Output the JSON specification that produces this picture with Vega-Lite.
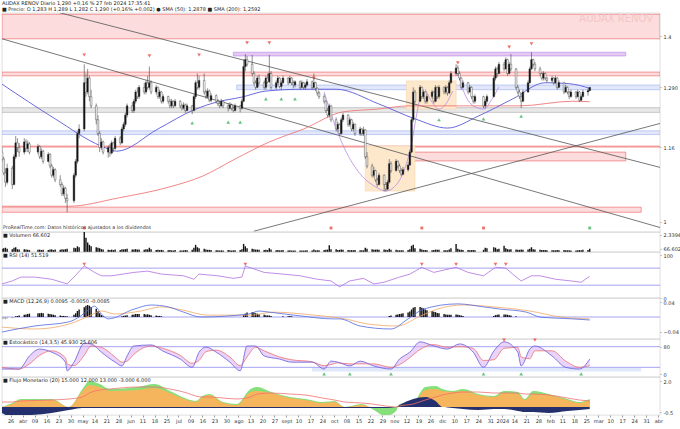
{
"$schema":"https://vega.github.io/schema/vega-lite/v6.json",
"padding":0,
"bounds":"flush",
"background":"white",
"config":{"concat":{"spacing":0},"view":{"stroke":"#c8c8c8","strokeWidth":0.6},"font":"DejaVu Sans",
 "scale":{"continuousPadding":0},
 "axis":{"labelFontSize":5,"labelColor":"#333","domain":false,"grid":false,"tickSize":1,"tickColor":"#999","labelPadding":2,"title":null,"labelOverlap":false},
 "title":{"fontSize":5,"fontWeight":"normal","color":"#222","anchor":"start","frame":"group"},
 "text":{"fontSize":5,"color":"#222","align":"left","baseline":"top"}},
"datasets":{
"c":[
{"d":"2023-03-21","o":1.150,"h":1.160,"l":1.130,"c":1.135,"v":70000},
{"d":"2023-03-22","o":1.135,"h":1.140,"l":1.100,"c":1.105,"v":80000},
{"d":"2023-03-23","o":1.105,"h":1.115,"l":1.075,"c":1.085,"v":90000},
{"d":"2023-03-24","o":1.085,"h":1.125,"l":1.080,"c":1.115,"v":70000},
{"d":"2023-03-27","o":1.115,"h":1.120,"l":1.070,"c":1.080,"v":60000},
{"d":"2023-03-28","o":1.080,"h":1.145,"l":1.078,"c":1.140,"v":90000},
{"d":"2023-03-29","o":1.140,"h":1.185,"l":1.135,"c":1.170,"v":100000},
{"d":"2023-03-30","o":1.170,"h":1.180,"l":1.150,"c":1.160,"v":60000},
{"d":"2023-03-31","o":1.160,"h":1.170,"l":1.140,"c":1.150,"v":50000},
{"d":"2023-04-03","o":1.150,"h":1.180,"l":1.145,"c":1.172,"v":60000},
{"d":"2023-04-04","o":1.172,"h":1.178,"l":1.150,"c":1.158,"v":50000},
{"d":"2023-04-05","o":1.158,"h":1.175,"l":1.150,"c":1.168,"v":45000},
{"d":"2023-04-06","o":1.168,"h":1.172,"l":1.145,"c":1.150,"v":40000},
{"d":"2023-04-11","o":1.150,"h":1.168,"l":1.145,"c":1.162,"v":45000},
{"d":"2023-04-12","o":1.162,"h":1.165,"l":1.135,"c":1.140,"v":50000},
{"d":"2023-04-13","o":1.140,"h":1.158,"l":1.135,"c":1.152,"v":40000},
{"d":"2023-04-14","o":1.152,"h":1.155,"l":1.125,"c":1.130,"v":45000},
{"d":"2023-04-17","o":1.130,"h":1.150,"l":1.128,"c":1.145,"v":40000},
{"d":"2023-04-18","o":1.145,"h":1.148,"l":1.115,"c":1.120,"v":50000},
{"d":"2023-04-19","o":1.120,"h":1.125,"l":1.095,"c":1.100,"v":55000},
{"d":"2023-04-20","o":1.100,"h":1.118,"l":1.095,"c":1.112,"v":40000},
{"d":"2023-04-21","o":1.112,"h":1.115,"l":1.085,"c":1.090,"v":50000},
{"d":"2023-04-24","o":1.090,"h":1.100,"l":1.075,"c":1.080,"v":45000},
{"d":"2023-04-25","o":1.080,"h":1.085,"l":1.055,"c":1.060,"v":60000},
{"d":"2023-04-26","o":1.060,"h":1.078,"l":1.055,"c":1.072,"v":50000},
{"d":"2023-04-27","o":1.072,"h":1.075,"l":1.040,"c":1.050,"v":60000},
{"d":"2023-04-28","o":1.050,"h":1.060,"l":1.020,"c":1.045,"v":70000},
{"d":"2023-05-02","o":1.045,"h":1.105,"l":1.040,"c":1.100,"v":90000},
{"d":"2023-05-03","o":1.100,"h":1.135,"l":1.095,"c":1.130,"v":80000},
{"d":"2023-05-04","o":1.130,"h":1.195,"l":1.125,"c":1.190,"v":120000},
{"d":"2023-05-05","o":1.190,"h":1.210,"l":1.180,"c":1.200,"v":100000},
{"d":"2023-05-08","o":1.200,"h":1.340,"l":1.195,"c":1.300,"v":2200000},
{"d":"2023-05-09","o":1.300,"h":1.320,"l":1.270,"c":1.280,"v":300000},
{"d":"2023-05-10","o":1.280,"h":1.330,"l":1.275,"c":1.310,"v":200000},
{"d":"2023-05-11","o":1.310,"h":1.315,"l":1.260,"c":1.270,"v":150000},
{"d":"2023-05-12","o":1.270,"h":1.285,"l":1.245,"c":1.250,"v":120000},
{"d":"2023-05-15","o":1.250,"h":1.255,"l":1.210,"c":1.220,"v":100000},
{"d":"2023-05-16","o":1.220,"h":1.230,"l":1.185,"c":1.190,"v":90000},
{"d":"2023-05-17","o":1.190,"h":1.195,"l":1.150,"c":1.160,"v":80000},
{"d":"2023-05-18","o":1.160,"h":1.180,"l":1.155,"c":1.172,"v":60000},
{"d":"2023-05-19","o":1.172,"h":1.175,"l":1.145,"c":1.150,"v":50000},
{"d":"2023-05-22","o":1.150,"h":1.165,"l":1.138,"c":1.160,"v":45000},
{"d":"2023-05-23","o":1.160,"h":1.168,"l":1.140,"c":1.148,"v":40000},
{"d":"2023-05-24","o":1.148,"h":1.175,"l":1.145,"c":1.170,"v":50000},
{"d":"2023-05-25","o":1.170,"h":1.172,"l":1.150,"c":1.158,"v":40000},
{"d":"2023-05-26","o":1.158,"h":1.185,"l":1.155,"c":1.180,"v":55000},
{"d":"2023-05-29","o":1.180,"h":1.185,"l":1.165,"c":1.170,"v":40000},
{"d":"2023-05-30","o":1.170,"h":1.205,"l":1.168,"c":1.200,"v":60000},
{"d":"2023-05-31","o":1.200,"h":1.215,"l":1.195,"c":1.210,"v":55000},
{"d":"2023-06-01","o":1.210,"h":1.235,"l":1.205,"c":1.230,"v":60000},
{"d":"2023-06-02","o":1.230,"h":1.255,"l":1.225,"c":1.250,"v":70000},
{"d":"2023-06-05","o":1.250,"h":1.258,"l":1.235,"c":1.240,"v":50000},
{"d":"2023-06-06","o":1.240,"h":1.265,"l":1.235,"c":1.260,"v":55000},
{"d":"2023-06-07","o":1.260,"h":1.285,"l":1.255,"c":1.280,"v":60000},
{"d":"2023-06-08","o":1.280,"h":1.290,"l":1.265,"c":1.270,"v":50000},
{"d":"2023-06-09","o":1.270,"h":1.295,"l":1.265,"c":1.290,"v":55000},
{"d":"2023-06-12","o":1.290,"h":1.300,"l":1.275,"c":1.280,"v":45000},
{"d":"2023-06-13","o":1.280,"h":1.305,"l":1.275,"c":1.300,"v":60000},
{"d":"2023-06-14","o":1.300,"h":1.315,"l":1.285,"c":1.290,"v":55000},
{"d":"2023-06-15","o":1.290,"h":1.335,"l":1.285,"c":1.300,"v":90000},
{"d":"2023-06-16","o":1.300,"h":1.305,"l":1.275,"c":1.280,"v":60000},
{"d":"2023-06-19","o":1.280,"h":1.295,"l":1.275,"c":1.290,"v":40000},
{"d":"2023-06-20","o":1.290,"h":1.292,"l":1.265,"c":1.270,"v":45000},
{"d":"2023-06-21","o":1.270,"h":1.285,"l":1.265,"c":1.280,"v":40000},
{"d":"2023-06-22","o":1.280,"h":1.282,"l":1.255,"c":1.260,"v":45000},
{"d":"2023-06-23","o":1.260,"h":1.275,"l":1.255,"c":1.270,"v":35000},
{"d":"2023-06-26","o":1.270,"h":1.272,"l":1.255,"c":1.260,"v":35000},
{"d":"2023-06-27","o":1.260,"h":1.265,"l":1.245,"c":1.250,"v":40000},
{"d":"2023-06-28","o":1.250,"h":1.265,"l":1.245,"c":1.260,"v":35000},
{"d":"2023-06-29","o":1.260,"h":1.262,"l":1.245,"c":1.250,"v":30000},
{"d":"2023-06-30","o":1.250,"h":1.265,"l":1.248,"c":1.260,"v":40000},
{"d":"2023-07-03","o":1.260,"h":1.262,"l":1.245,"c":1.250,"v":30000},
{"d":"2023-07-04","o":1.250,"h":1.255,"l":1.240,"c":1.245,"v":30000},
{"d":"2023-07-05","o":1.245,"h":1.258,"l":1.242,"c":1.252,"v":35000},
{"d":"2023-07-06","o":1.252,"h":1.255,"l":1.235,"c":1.240,"v":40000},
{"d":"2023-07-07","o":1.240,"h":1.255,"l":1.238,"c":1.250,"v":35000},
{"d":"2023-07-10","o":1.250,"h":1.252,"l":1.232,"c":1.240,"v":45000},
{"d":"2023-07-11","o":1.240,"h":1.275,"l":1.238,"c":1.270,"v":90000},
{"d":"2023-07-12","o":1.270,"h":1.305,"l":1.265,"c":1.300,"v":150000},
{"d":"2023-07-13","o":1.300,"h":1.320,"l":1.285,"c":1.290,"v":100000},
{"d":"2023-07-14","o":1.290,"h":1.315,"l":1.285,"c":1.305,"v":80000},
{"d":"2023-07-17","o":1.305,"h":1.320,"l":1.275,"c":1.280,"v":70000},
{"d":"2023-07-18","o":1.280,"h":1.285,"l":1.265,"c":1.270,"v":50000},
{"d":"2023-07-19","o":1.270,"h":1.288,"l":1.265,"c":1.282,"v":45000},
{"d":"2023-07-20","o":1.282,"h":1.285,"l":1.258,"c":1.262,"v":45000},
{"d":"2023-07-21","o":1.262,"h":1.278,"l":1.258,"c":1.272,"v":40000},
{"d":"2023-07-24","o":1.272,"h":1.275,"l":1.255,"c":1.260,"v":35000},
{"d":"2023-07-25","o":1.260,"h":1.265,"l":1.250,"c":1.255,"v":35000},
{"d":"2023-07-26","o":1.255,"h":1.260,"l":1.245,"c":1.250,"v":30000},
{"d":"2023-07-27","o":1.250,"h":1.265,"l":1.248,"c":1.260,"v":35000},
{"d":"2023-07-28","o":1.260,"h":1.262,"l":1.245,"c":1.250,"v":30000},
{"d":"2023-07-31","o":1.250,"h":1.255,"l":1.238,"c":1.245,"v":40000},
{"d":"2023-08-01","o":1.245,"h":1.258,"l":1.242,"c":1.252,"v":35000},
{"d":"2023-08-02","o":1.252,"h":1.255,"l":1.240,"c":1.245,"v":30000},
{"d":"2023-08-03","o":1.245,"h":1.250,"l":1.236,"c":1.240,"v":35000},
{"d":"2023-08-04","o":1.240,"h":1.255,"l":1.238,"c":1.250,"v":35000},
{"d":"2023-08-07","o":1.250,"h":1.252,"l":1.236,"c":1.245,"v":40000},
{"d":"2023-08-08","o":1.245,"h":1.265,"l":1.242,"c":1.260,"v":60000},
{"d":"2023-08-09","o":1.260,"h":1.350,"l":1.258,"c":1.335,"v":170000},
{"d":"2023-08-10","o":1.335,"h":1.362,"l":1.325,"c":1.350,"v":120000},
{"d":"2023-08-11","o":1.350,"h":1.358,"l":1.335,"c":1.340,"v":80000},
{"d":"2023-08-14","o":1.340,"h":1.360,"l":1.315,"c":1.320,"v":70000},
{"d":"2023-08-15","o":1.320,"h":1.325,"l":1.295,"c":1.300,"v":60000},
{"d":"2023-08-16","o":1.300,"h":1.305,"l":1.285,"c":1.290,"v":50000},
{"d":"2023-08-17","o":1.290,"h":1.315,"l":1.288,"c":1.310,"v":50000},
{"d":"2023-08-18","o":1.310,"h":1.318,"l":1.295,"c":1.300,"v":45000},
{"d":"2023-08-21","o":1.300,"h":1.305,"l":1.285,"c":1.290,"v":40000},
{"d":"2023-08-22","o":1.290,"h":1.315,"l":1.285,"c":1.310,"v":45000},
{"d":"2023-08-23","o":1.310,"h":1.320,"l":1.298,"c":1.302,"v":40000},
{"d":"2023-08-24","o":1.302,"h":1.360,"l":1.300,"c":1.320,"v":80000},
{"d":"2023-08-25","o":1.320,"h":1.325,"l":1.285,"c":1.290,"v":50000},
{"d":"2023-08-28","o":1.290,"h":1.305,"l":1.285,"c":1.300,"v":35000},
{"d":"2023-08-29","o":1.300,"h":1.315,"l":1.295,"c":1.310,"v":40000},
{"d":"2023-08-30","o":1.310,"h":1.312,"l":1.288,"c":1.292,"v":35000},
{"d":"2023-08-31","o":1.292,"h":1.305,"l":1.285,"c":1.300,"v":35000},
{"d":"2023-09-01","o":1.300,"h":1.315,"l":1.298,"c":1.310,"v":40000},
{"d":"2023-09-04","o":1.310,"h":1.312,"l":1.295,"c":1.300,"v":30000},
{"d":"2023-09-05","o":1.300,"h":1.315,"l":1.298,"c":1.310,"v":35000},
{"d":"2023-09-06","o":1.310,"h":1.312,"l":1.295,"c":1.300,"v":30000},
{"d":"2023-09-07","o":1.300,"h":1.305,"l":1.288,"c":1.295,"v":30000},
{"d":"2023-09-08","o":1.295,"h":1.305,"l":1.290,"c":1.302,"v":30000},
{"d":"2023-09-11","o":1.302,"h":1.305,"l":1.285,"c":1.290,"v":30000},
{"d":"2023-09-12","o":1.290,"h":1.305,"l":1.288,"c":1.300,"v":30000},
{"d":"2023-09-13","o":1.300,"h":1.302,"l":1.285,"c":1.290,"v":30000},
{"d":"2023-09-14","o":1.290,"h":1.300,"l":1.285,"c":1.295,"v":30000},
{"d":"2023-09-15","o":1.295,"h":1.308,"l":1.292,"c":1.302,"v":35000},
{"d":"2023-09-18","o":1.302,"h":1.305,"l":1.285,"c":1.290,"v":30000},
{"d":"2023-09-19","o":1.290,"h":1.320,"l":1.288,"c":1.300,"v":50000},
{"d":"2023-09-20","o":1.300,"h":1.302,"l":1.282,"c":1.288,"v":35000},
{"d":"2023-09-21","o":1.288,"h":1.290,"l":1.272,"c":1.278,"v":35000},
{"d":"2023-09-22","o":1.278,"h":1.282,"l":1.265,"c":1.270,"v":35000},
{"d":"2023-09-25","o":1.270,"h":1.275,"l":1.255,"c":1.260,"v":40000},
{"d":"2023-09-26","o":1.260,"h":1.262,"l":1.235,"c":1.240,"v":45000},
{"d":"2023-09-27","o":1.240,"h":1.245,"l":1.225,"c":1.230,"v":50000},
{"d":"2023-09-28","o":1.230,"h":1.255,"l":1.225,"c":1.250,"v":140000},
{"d":"2023-09-29","o":1.250,"h":1.252,"l":1.215,"c":1.220,"v":60000},
{"d":"2023-10-02","o":1.220,"h":1.225,"l":1.195,"c":1.200,"v":60000},
{"d":"2023-10-03","o":1.200,"h":1.215,"l":1.195,"c":1.210,"v":40000},
{"d":"2023-10-04","o":1.210,"h":1.212,"l":1.185,"c":1.190,"v":45000},
{"d":"2023-10-05","o":1.190,"h":1.225,"l":1.188,"c":1.220,"v":50000},
{"d":"2023-10-06","o":1.220,"h":1.235,"l":1.215,"c":1.230,"v":45000},
{"d":"2023-10-09","o":1.230,"h":1.232,"l":1.205,"c":1.210,"v":40000},
{"d":"2023-10-10","o":1.210,"h":1.225,"l":1.205,"c":1.220,"v":35000},
{"d":"2023-10-11","o":1.220,"h":1.222,"l":1.195,"c":1.200,"v":40000},
{"d":"2023-10-12","o":1.200,"h":1.215,"l":1.195,"c":1.210,"v":35000},
{"d":"2023-10-13","o":1.210,"h":1.212,"l":1.185,"c":1.190,"v":40000},
{"d":"2023-10-16","o":1.190,"h":1.205,"l":1.185,"c":1.200,"v":35000},
{"d":"2023-10-17","o":1.200,"h":1.202,"l":1.185,"c":1.190,"v":35000},
{"d":"2023-10-18","o":1.190,"h":1.205,"l":1.185,"c":1.198,"v":35000},
{"d":"2023-10-19","o":1.198,"h":1.200,"l":1.135,"c":1.140,"v":90000},
{"d":"2023-10-20","o":1.140,"h":1.150,"l":1.115,"c":1.120,"v":70000},
{"d":"2023-10-23","o":1.120,"h":1.125,"l":1.095,"c":1.100,"v":60000},
{"d":"2023-10-24","o":1.100,"h":1.118,"l":1.095,"c":1.110,"v":45000},
{"d":"2023-10-25","o":1.110,"h":1.112,"l":1.085,"c":1.090,"v":50000},
{"d":"2023-10-26","o":1.090,"h":1.095,"l":1.075,"c":1.080,"v":50000},
{"d":"2023-10-27","o":1.080,"h":1.105,"l":1.078,"c":1.100,"v":45000},
{"d":"2023-10-30","o":1.100,"h":1.102,"l":1.065,"c":1.080,"v":55000},
{"d":"2023-10-31","o":1.080,"h":1.085,"l":1.065,"c":1.070,"v":45000},
{"d":"2023-11-01","o":1.070,"h":1.090,"l":1.068,"c":1.085,"v":40000},
{"d":"2023-11-02","o":1.085,"h":1.135,"l":1.082,"c":1.125,"v":70000},
{"d":"2023-11-03","o":1.125,"h":1.130,"l":1.105,"c":1.110,"v":45000},
{"d":"2023-11-06","o":1.110,"h":1.135,"l":1.108,"c":1.130,"v":45000},
{"d":"2023-11-07","o":1.130,"h":1.132,"l":1.115,"c":1.120,"v":35000},
{"d":"2023-11-08","o":1.120,"h":1.125,"l":1.105,"c":1.110,"v":35000},
{"d":"2023-11-09","o":1.110,"h":1.115,"l":1.098,"c":1.102,"v":35000},
{"d":"2023-11-10","o":1.102,"h":1.118,"l":1.100,"c":1.112,"v":35000},
{"d":"2023-11-13","o":1.112,"h":1.128,"l":1.108,"c":1.122,"v":40000},
{"d":"2023-11-14","o":1.122,"h":1.155,"l":1.120,"c":1.150,"v":60000},
{"d":"2023-11-15","o":1.150,"h":1.225,"l":1.148,"c":1.220,"v":130000},
{"d":"2023-11-16","o":1.220,"h":1.290,"l":1.215,"c":1.280,"v":150000},
{"d":"2023-11-17","o":1.280,"h":1.285,"l":1.255,"c":1.260,"v":80000},
{"d":"2023-11-20","o":1.260,"h":1.295,"l":1.258,"c":1.290,"v":70000},
{"d":"2023-11-21","o":1.290,"h":1.292,"l":1.265,"c":1.270,"v":50000},
{"d":"2023-11-22","o":1.270,"h":1.285,"l":1.265,"c":1.280,"v":40000},
{"d":"2023-11-23","o":1.280,"h":1.282,"l":1.255,"c":1.260,"v":40000},
{"d":"2023-11-24","o":1.260,"h":1.275,"l":1.255,"c":1.270,"v":35000},
{"d":"2023-11-27","o":1.270,"h":1.285,"l":1.265,"c":1.280,"v":35000},
{"d":"2023-11-28","o":1.280,"h":1.282,"l":1.255,"c":1.260,"v":40000},
{"d":"2023-11-29","o":1.260,"h":1.295,"l":1.258,"c":1.290,"v":50000},
{"d":"2023-11-30","o":1.290,"h":1.292,"l":1.265,"c":1.270,"v":45000},
{"d":"2023-12-01","o":1.270,"h":1.295,"l":1.265,"c":1.290,"v":45000},
{"d":"2023-12-04","o":1.290,"h":1.292,"l":1.275,"c":1.280,"v":35000},
{"d":"2023-12-05","o":1.280,"h":1.295,"l":1.275,"c":1.290,"v":35000},
{"d":"2023-12-06","o":1.290,"h":1.292,"l":1.272,"c":1.278,"v":35000},
{"d":"2023-12-07","o":1.278,"h":1.305,"l":1.275,"c":1.300,"v":50000},
{"d":"2023-12-08","o":1.300,"h":1.325,"l":1.298,"c":1.320,"v":80000},
{"d":"2023-12-11","o":1.320,"h":1.340,"l":1.315,"c":1.332,"v":170000},
{"d":"2023-12-12","o":1.332,"h":1.338,"l":1.315,"c":1.320,"v":70000},
{"d":"2023-12-13","o":1.320,"h":1.325,"l":1.305,"c":1.310,"v":50000},
{"d":"2023-12-14","o":1.310,"h":1.312,"l":1.285,"c":1.290,"v":45000},
{"d":"2023-12-15","o":1.290,"h":1.305,"l":1.288,"c":1.300,"v":40000},
{"d":"2023-12-18","o":1.300,"h":1.302,"l":1.275,"c":1.280,"v":40000},
{"d":"2023-12-19","o":1.280,"h":1.295,"l":1.278,"c":1.290,"v":35000},
{"d":"2023-12-20","o":1.290,"h":1.292,"l":1.265,"c":1.270,"v":40000},
{"d":"2023-12-21","o":1.270,"h":1.272,"l":1.255,"c":1.260,"v":40000},
{"d":"2023-12-22","o":1.260,"h":1.275,"l":1.255,"c":1.270,"v":35000},
{"d":"2023-12-27","o":1.270,"h":1.272,"l":1.245,"c":1.250,"v":45000},
{"d":"2023-12-28","o":1.250,"h":1.265,"l":1.244,"c":1.260,"v":90000},
{"d":"2023-12-29","o":1.260,"h":1.275,"l":1.255,"c":1.270,"v":80000},
{"d":"2024-01-02","o":1.270,"h":1.315,"l":1.268,"c":1.310,"v":100000},
{"d":"2024-01-03","o":1.310,"h":1.335,"l":1.305,"c":1.330,"v":90000},
{"d":"2024-01-04","o":1.330,"h":1.335,"l":1.312,"c":1.320,"v":60000},
{"d":"2024-01-05","o":1.320,"h":1.345,"l":1.318,"c":1.340,"v":70000},
{"d":"2024-01-08","o":1.340,"h":1.345,"l":1.325,"c":1.330,"v":130000},
{"d":"2024-01-09","o":1.330,"h":1.355,"l":1.328,"c":1.350,"v":80000},
{"d":"2024-01-10","o":1.350,"h":1.352,"l":1.315,"c":1.320,"v":60000},
{"d":"2024-01-11","o":1.320,"h":1.345,"l":1.318,"c":1.340,"v":55000},
{"d":"2024-01-12","o":1.340,"h":1.362,"l":1.325,"c":1.330,"v":60000},
{"d":"2024-01-15","o":1.330,"h":1.332,"l":1.285,"c":1.290,"v":50000},
{"d":"2024-01-16","o":1.290,"h":1.295,"l":1.275,"c":1.280,"v":45000},
{"d":"2024-01-17","o":1.280,"h":1.285,"l":1.265,"c":1.270,"v":45000},
{"d":"2024-01-18","o":1.270,"h":1.275,"l":1.245,"c":1.260,"v":50000},
{"d":"2024-01-19","o":1.260,"h":1.285,"l":1.258,"c":1.280,"v":45000},
{"d":"2024-01-22","o":1.280,"h":1.305,"l":1.278,"c":1.300,"v":50000},
{"d":"2024-01-23","o":1.300,"h":1.335,"l":1.298,"c":1.330,"v":70000},
{"d":"2024-01-24","o":1.330,"h":1.366,"l":1.328,"c":1.350,"v":100000},
{"d":"2024-01-25","o":1.350,"h":1.352,"l":1.335,"c":1.340,"v":60000},
{"d":"2024-01-26","o":1.340,"h":1.345,"l":1.325,"c":1.330,"v":50000},
{"d":"2024-01-29","o":1.330,"h":1.335,"l":1.315,"c":1.320,"v":45000},
{"d":"2024-01-30","o":1.320,"h":1.322,"l":1.305,"c":1.310,"v":40000},
{"d":"2024-01-31","o":1.310,"h":1.325,"l":1.305,"c":1.320,"v":40000},
{"d":"2024-02-01","o":1.320,"h":1.322,"l":1.305,"c":1.310,"v":40000},
{"d":"2024-02-02","o":1.310,"h":1.312,"l":1.300,"c":1.305,"v":35000},
{"d":"2024-02-05","o":1.305,"h":1.315,"l":1.300,"c":1.310,"v":35000},
{"d":"2024-02-06","o":1.310,"h":1.312,"l":1.295,"c":1.300,"v":35000},
{"d":"2024-02-07","o":1.300,"h":1.315,"l":1.298,"c":1.310,"v":35000},
{"d":"2024-02-08","o":1.310,"h":1.312,"l":1.285,"c":1.290,"v":40000},
{"d":"2024-02-09","o":1.290,"h":1.305,"l":1.288,"c":1.300,"v":35000},
{"d":"2024-02-12","o":1.300,"h":1.302,"l":1.275,"c":1.280,"v":40000},
{"d":"2024-02-13","o":1.280,"h":1.295,"l":1.278,"c":1.290,"v":35000},
{"d":"2024-02-14","o":1.290,"h":1.292,"l":1.275,"c":1.280,"v":35000},
{"d":"2024-02-15","o":1.280,"h":1.282,"l":1.265,"c":1.270,"v":35000},
{"d":"2024-02-16","o":1.270,"h":1.285,"l":1.268,"c":1.280,"v":30000},
{"d":"2024-02-19","o":1.280,"h":1.282,"l":1.265,"c":1.270,"v":30000},
{"d":"2024-02-20","o":1.270,"h":1.285,"l":1.268,"c":1.280,"v":35000},
{"d":"2024-02-21","o":1.280,"h":1.282,"l":1.258,"c":1.262,"v":40000},
{"d":"2024-02-22","o":1.262,"h":1.275,"l":1.260,"c":1.270,"v":35000},
{"d":"2024-02-23","o":1.270,"h":1.285,"l":1.268,"c":1.280,"v":45000},
{"d":"2024-02-26","o":1.280,"h":1.288,"l":1.272,"c":1.283,"v":40000},
{"d":"2024-02-27","o":1.283,"h":1.290,"l":1.282,"c":1.290,"v":66602}
],
"z":[
{"a":"2023-03-21","b":"2024-04-08","p1":1.395,"p2":1.448,"k":"res"},
{"a":"2023-03-21","b":"2024-04-08","p1":1.315,"p2":1.323,"k":"res"},
{"a":"2023-11-12","b":"2024-03-19","p1":1.131,"p2":1.150,"k":"res"},
{"a":"2023-03-21","b":"2024-03-28","p1":1.020,"p2":1.031,"k":"res"},
{"a":"2023-03-21","b":"2024-04-08","p1":1.161,"p2":1.163,"k":"res"},
{"a":"2023-08-03","b":"2024-03-19","p1":1.358,"p2":1.366,"k":"pur"},
{"a":"2023-08-05","b":"2024-04-08","p1":1.285,"p2":1.295,"k":"blu"},
{"a":"2023-03-21","b":"2024-04-08","p1":1.188,"p2":1.196,"k":"blu"},
{"a":"2023-03-21","b":"2024-04-08","p1":1.236,"p2":1.246,"k":"gry"},
{"a":"2023-10-19","b":"2023-11-17","p1":1.066,"p2":1.163,"k":"ora"},
{"a":"2023-11-12","b":"2023-12-11","p1":1.243,"p2":1.304,"k":"ora"}
],
"tl":[
{"g":"A","d":"2023-03-21","p":1.395},{"g":"A","d":"2024-04-08","p":0.987},
{"g":"B","d":"2023-04-22","p":1.453},{"g":"B","d":"2024-04-08","p":1.117},
{"g":"C","d":"2023-08-15","p":0.979},{"g":"C","d":"2024-04-08","p":1.212}
],
"m50":[
{"d":"2023-03-21","p":1.297},{"d":"2023-04-21","p":1.222},{"d":"2023-05-18","p":1.163},{"d":"2023-05-27","p":1.152},
{"d":"2023-06-20","p":1.200},{"d":"2023-07-12","p":1.243},{"d":"2023-07-24","p":1.258},{"d":"2023-08-08","p":1.269},
{"d":"2023-08-22","p":1.282},{"d":"2023-09-13","p":1.286},{"d":"2023-10-02","p":1.286},{"d":"2023-10-27","p":1.254},
{"d":"2023-11-17","p":1.222},{"d":"2023-12-06","p":1.202},{"d":"2023-12-24","p":1.228},{"d":"2024-01-13","p":1.265},
{"d":"2024-02-01","p":1.300},{"d":"2024-02-15","p":1.298},{"d":"2024-02-27","p":1.288}
],
"m200":[
{"d":"2023-03-21","p":1.033},{"d":"2023-04-29","p":1.033},{"d":"2023-05-28","p":1.051},{"d":"2023-06-27","p":1.075},
{"d":"2023-07-16","p":1.098},{"d":"2023-08-04","p":1.135},{"d":"2023-08-24","p":1.172},{"d":"2023-09-13","p":1.200},
{"d":"2023-10-06","p":1.237},{"d":"2023-10-26","p":1.243},{"d":"2023-11-14","p":1.250},{"d":"2023-12-12","p":1.250},
{"d":"2024-01-17","p":1.250},{"d":"2024-02-17","p":1.260},{"d":"2024-02-27","p":1.259}
],
"arc":[
{"g":"1","d":"2023-09-25","p":1.280},{"g":"1","d":"2023-09-30","p":1.222},{"g":"1","d":"2023-10-07","p":1.157},{"g":"1","d":"2023-10-16","p":1.103},
{"g":"1","d":"2023-10-25","p":1.075},{"g":"1","d":"2023-10-31","p":1.066},{"g":"1","d":"2023-11-05","p":1.075},{"g":"1","d":"2023-11-11","p":1.114},
{"g":"1","d":"2023-11-15","p":1.168},{"g":"1","d":"2023-11-18","p":1.232},{"g":"1","d":"2023-11-21","p":1.286},
{"g":"2","d":"2023-11-23","p":1.286},{"g":"2","d":"2023-11-27","p":1.258},{"g":"2","d":"2023-12-01","p":1.243},{"g":"2","d":"2023-12-05","p":1.254},{"g":"2","d":"2023-12-09","p":1.282},
{"g":"3","d":"2023-12-12","p":1.323},{"g":"3","d":"2023-12-16","p":1.276},{"g":"3","d":"2023-12-22","p":1.248},{"g":"3","d":"2023-12-27","p":1.243},{"g":"3","d":"2024-01-01","p":1.265},{"g":"3","d":"2024-01-05","p":1.291}
],
"mk":[
{"d":"2023-05-08","p":1.36,"t":"dn"},{"d":"2023-06-15","p":1.358,"t":"dn"},{"d":"2023-07-14","p":1.36,"t":"dn"},
{"d":"2023-08-11","p":1.386,"t":"dn"},{"d":"2023-08-24","p":1.386,"t":"dn"},{"d":"2023-09-19","p":1.31,"t":"dn"},
{"d":"2023-12-12","p":1.343,"t":"dn"},{"d":"2024-01-11","p":1.377,"t":"dn"},{"d":"2024-01-24","p":1.384,"t":"dn"},
{"d":"2023-07-10","p":1.213,"t":"up"},{"d":"2023-07-31","p":1.215,"t":"up"},{"d":"2023-08-07","p":1.215,"t":"up"},
{"d":"2023-08-22","p":1.265,"t":"up"},{"d":"2023-08-31","p":1.265,"t":"up"},{"d":"2023-09-08","p":1.265,"t":"up"},
{"d":"2023-12-01","p":1.22,"t":"up"},{"d":"2023-12-27","p":1.222,"t":"up"},{"d":"2024-01-18","p":1.228,"t":"up"}
],
"dv":[
{"d":"2023-05-08","p":0.986,"k":"b"},{"d":"2023-09-29","p":0.986,"k":"b"},{"d":"2023-11-21","p":0.986,"k":"b"},{"d":"2023-12-27","p":0.986,"k":"b"},{"d":"2024-02-27","p":0.986,"k":"g"}
],
"rsi":[
{"d":"2023-03-21","r":33},{"d":"2023-03-27","r":40},{"d":"2023-04-01","r":49},{"d":"2023-04-09","r":49},{"d":"2023-04-19","r":44},
{"d":"2023-04-28","r":33},{"d":"2023-05-02","r":49},{"d":"2023-05-08","r":75},{"d":"2023-05-14","r":60},{"d":"2023-05-18","r":52},
{"d":"2023-05-24","r":52},{"d":"2023-06-06","r":60},{"d":"2023-06-14","r":63},{"d":"2023-06-22","r":56},{"d":"2023-07-05","r":52},
{"d":"2023-07-11","r":44},{"d":"2023-07-14","r":56},{"d":"2023-07-25","r":52},{"d":"2023-08-03","r":46},{"d":"2023-08-08","r":49},
{"d":"2023-08-10","r":75},{"d":"2023-08-21","r":60},{"d":"2023-09-01","r":56},{"d":"2023-09-11","r":52},{"d":"2023-09-21","r":44},
{"d":"2023-09-29","r":40},{"d":"2023-10-04","r":26},{"d":"2023-10-10","r":40},{"d":"2023-10-18","r":46},{"d":"2023-10-24","r":33},
{"d":"2023-10-30","r":37},{"d":"2023-11-08","r":49},{"d":"2023-11-14","r":56},{"d":"2023-11-21","r":72},{"d":"2023-11-28","r":60},
{"d":"2023-12-11","r":72},{"d":"2023-12-18","r":60},{"d":"2023-12-27","r":52},{"d":"2024-01-03","r":72},{"d":"2024-01-09","r":70},
{"d":"2024-01-13","r":56},{"d":"2024-01-18","r":40},{"d":"2024-01-24","r":52},{"d":"2024-01-29","r":52},{"d":"2024-02-07","r":44},
{"d":"2024-02-16","r":40},{"d":"2024-02-22","r":37},{"d":"2024-02-27","r":51}
],
"rmk":[{"d":"2023-05-08","r":79},{"d":"2023-08-10","r":79},{"d":"2023-11-21","r":79},{"d":"2023-12-11","r":79},{"d":"2024-01-03","r":79},{"d":"2024-01-09","r":79}],
"macd":[
{"d":"2023-03-21","m":-0.040},{"d":"2023-04-09","m":-0.024},{"d":"2023-04-29","m":-0.013},{"d":"2023-05-06","m":0.003},{"d":"2023-05-11","m":0.021},
{"d":"2023-05-14","m":0.029},{"d":"2023-05-18","m":0.008},{"d":"2023-05-22","m":-0.005},{"d":"2023-06-06","m":0.021},{"d":"2023-06-16","m":0.032},
{"d":"2023-06-26","m":0.027},{"d":"2023-07-05","m":0.013},{"d":"2023-07-15","m":0.000},{"d":"2023-08-12","m":0.008},{"d":"2023-08-18","m":0.016},
{"d":"2023-08-24","m":0.013},{"d":"2023-09-11","m":0.003},{"d":"2023-09-30","m":-0.005},{"d":"2023-10-04","m":-0.005},{"d":"2023-10-16","m":-0.024},
{"d":"2023-11-03","m":-0.032},{"d":"2023-11-13","m":-0.005},{"d":"2023-11-22","m":0.021},{"d":"2023-12-12","m":0.035},{"d":"2023-12-27","m":0.027},
{"d":"2024-01-06","m":0.021},{"d":"2024-01-21","m":0.013},{"d":"2024-01-29","m":0.000},{"d":"2024-02-17","m":-0.005},{"d":"2024-02-27","m":-0.008}
],
"sig":[
{"d":"2023-03-21","s":-0.027},{"d":"2023-04-09","s":-0.032},{"d":"2023-04-29","s":-0.019},{"d":"2023-05-11","s":0.003},{"d":"2023-05-18","s":0.016},
{"d":"2023-05-26","s":0.008},{"d":"2023-06-10","s":0.016},{"d":"2023-06-22","s":0.027},{"d":"2023-07-04","s":0.019},{"d":"2023-07-19","s":0.005},
{"d":"2023-08-14","s":0.005},{"d":"2023-08-26","s":0.013},{"d":"2023-09-19","s":0.005},{"d":"2023-10-07","s":-0.005},{"d":"2023-10-21","s":-0.019},
{"d":"2023-11-07","s":-0.024},{"d":"2023-11-19","s":0.000},{"d":"2023-11-30","s":0.021},{"d":"2023-12-15","s":0.032},{"d":"2024-01-02","s":0.027},
{"d":"2024-01-23","s":0.016},{"d":"2024-02-10","s":0.000},{"d":"2024-02-27","s":-0.005}
],
"mh":[
{"d":"2023-03-21","h":-0.006},{"d":"2023-03-22","h":-0.005},{"d":"2023-03-23","h":-0.006},{"d":"2023-03-24","h":-0.004},{"d":"2023-03-27","h":-0.003},{"d":"2023-03-28","h":-0.002},
{"d":"2023-03-29","h":0.002},{"d":"2023-03-30","h":0.003},{"d":"2023-03-31","h":0.004},{"d":"2023-04-03","h":0.006},{"d":"2023-04-04","h":0.007},{"d":"2023-04-05","h":0.008},
{"d":"2023-04-06","h":0.009},{"d":"2023-04-11","h":0.010},{"d":"2023-04-12","h":0.010},{"d":"2023-04-13","h":0.011},{"d":"2023-04-14","h":0.010},{"d":"2023-04-17","h":0.009},
{"d":"2023-04-18","h":0.008},{"d":"2023-04-19","h":0.007},{"d":"2023-04-20","h":0.006},{"d":"2023-04-21","h":0.005},{"d":"2023-04-24","h":0.004},{"d":"2023-04-25","h":0.003},
{"d":"2023-04-26","h":0.003},{"d":"2023-04-27","h":0.002},{"d":"2023-04-28","h":0.002},
{"d":"2023-05-02","h":0.006},{"d":"2023-05-03","h":0.010},{"d":"2023-05-04","h":0.016},{"d":"2023-05-05","h":0.020},{"d":"2023-05-08","h":0.026},{"d":"2023-05-09","h":0.030},
{"d":"2023-05-10","h":0.032},{"d":"2023-05-11","h":0.030},{"d":"2023-05-12","h":0.027},{"d":"2023-05-15","h":0.022},{"d":"2023-05-16","h":0.016},{"d":"2023-05-17","h":0.010},
{"d":"2023-05-18","h":0.005},{"d":"2023-05-19","h":0.002},
{"d":"2023-05-30","h":0.002},{"d":"2023-05-31","h":0.003},{"d":"2023-06-01","h":0.004},{"d":"2023-06-02","h":0.005},{"d":"2023-06-05","h":0.006},{"d":"2023-06-06","h":0.007},
{"d":"2023-06-07","h":0.008},{"d":"2023-06-08","h":0.008},{"d":"2023-06-09","h":0.008},{"d":"2023-06-12","h":0.008},{"d":"2023-06-13","h":0.007},{"d":"2023-06-14","h":0.007},
{"d":"2023-06-15","h":0.006},{"d":"2023-06-16","h":0.005},{"d":"2023-06-19","h":0.004},{"d":"2023-06-20","h":0.003},{"d":"2023-06-21","h":0.003},{"d":"2023-06-22","h":0.002},
{"d":"2023-08-09","h":0.005},{"d":"2023-08-10","h":0.009},{"d":"2023-08-11","h":0.012},{"d":"2023-08-14","h":0.013},{"d":"2023-08-15","h":0.012},{"d":"2023-08-16","h":0.010},
{"d":"2023-08-17","h":0.009},{"d":"2023-08-18","h":0.008},{"d":"2023-08-21","h":0.006},{"d":"2023-08-22","h":0.005},{"d":"2023-08-23","h":0.004},{"d":"2023-08-24","h":0.004},
{"d":"2023-08-25","h":0.003},{"d":"2023-09-01","h":0.002},{"d":"2023-09-04","h":0.002},{"d":"2023-09-05","h":0.003},{"d":"2023-09-06","h":0.002},
{"d":"2023-11-02","h":0.003},{"d":"2023-11-03","h":0.004},{"d":"2023-11-06","h":0.006},{"d":"2023-11-07","h":0.007},{"d":"2023-11-08","h":0.008},{"d":"2023-11-09","h":0.009},
{"d":"2023-11-10","h":0.010},{"d":"2023-11-13","h":0.012},{"d":"2023-11-14","h":0.015},{"d":"2023-11-15","h":0.020},{"d":"2023-11-16","h":0.025},{"d":"2023-11-17","h":0.027},
{"d":"2023-11-20","h":0.027},{"d":"2023-11-21","h":0.025},{"d":"2023-11-22","h":0.023},{"d":"2023-11-23","h":0.020},{"d":"2023-11-24","h":0.018},{"d":"2023-11-27","h":0.016},
{"d":"2023-11-28","h":0.014},{"d":"2023-11-29","h":0.013},{"d":"2023-11-30","h":0.011},{"d":"2023-12-01","h":0.010},{"d":"2023-12-04","h":0.008},{"d":"2023-12-05","h":0.007},
{"d":"2023-12-06","h":0.006},{"d":"2023-12-07","h":0.006},{"d":"2023-12-08","h":0.006},{"d":"2023-12-11","h":0.007},{"d":"2023-12-12","h":0.006},{"d":"2023-12-13","h":0.005},
{"d":"2023-12-14","h":0.004},{"d":"2023-12-15","h":0.003},
{"d":"2024-01-02","h":0.003},{"d":"2024-01-03","h":0.005},{"d":"2024-01-04","h":0.006},{"d":"2024-01-05","h":0.007},{"d":"2024-01-08","h":0.007},{"d":"2024-01-09","h":0.007},
{"d":"2024-01-10","h":0.006},{"d":"2024-01-11","h":0.005},{"d":"2024-01-12","h":0.004},{"d":"2024-01-15","h":0.002}
],
"st":[
{"d":"2023-03-21","k":15,"s":20},{"d":"2023-03-31","k":15,"s":15},{"d":"2023-04-06","k":53,"s":30},{"d":"2023-04-12","k":73,"s":55},{"d":"2023-04-19","k":64,"s":68},
{"d":"2023-04-27","k":35,"s":48},{"d":"2023-04-28","k":10,"s":30},{"d":"2023-05-02","k":35,"s":25},{"d":"2023-05-08","k":90,"s":55},{"d":"2023-05-12","k":88,"s":82},
{"d":"2023-05-18","k":64,"s":78},{"d":"2023-05-26","k":35,"s":50},{"d":"2023-05-30","k":24,"s":35},{"d":"2023-06-02","k":53,"s":38},{"d":"2023-06-06","k":82,"s":58},
{"d":"2023-06-16","k":85,"s":82},{"d":"2023-06-23","k":67,"s":75},{"d":"2023-07-03","k":44,"s":55},{"d":"2023-07-10","k":20,"s":32},{"d":"2023-07-14","k":64,"s":40},
{"d":"2023-07-18","k":79,"s":65},{"d":"2023-07-24","k":64,"s":70},{"d":"2023-08-01","k":35,"s":50},{"d":"2023-08-07","k":10,"s":25},{"d":"2023-08-11","k":82,"s":50},
{"d":"2023-08-16","k":82,"s":78},{"d":"2023-08-21","k":53,"s":68},{"d":"2023-08-30","k":44,"s":50},{"d":"2023-09-06","k":35,"s":42},{"d":"2023-09-18","k":35,"s":36},
{"d":"2023-09-25","k":15,"s":25},{"d":"2023-09-29","k":38,"s":28},{"d":"2023-10-03","k":35,"s":33},{"d":"2023-10-10","k":24,"s":30},{"d":"2023-10-16","k":38,"s":30},
{"d":"2023-10-24","k":24,"s":30},{"d":"2023-11-03","k":15,"s":20},{"d":"2023-11-08","k":44,"s":28},{"d":"2023-11-14","k":64,"s":48},{"d":"2023-11-20","k":94,"s":72},
{"d":"2023-11-28","k":82,"s":86},{"d":"2023-12-06","k":73,"s":78},{"d":"2023-12-13","k":88,"s":80},{"d":"2023-12-21","k":64,"s":75},{"d":"2023-12-27","k":20,"s":40},
{"d":"2024-01-02","k":67,"s":42},{"d":"2024-01-08","k":94,"s":75},{"d":"2024-01-16","k":64,"s":78},{"d":"2024-01-18","k":24,"s":50},{"d":"2024-01-23","k":73,"s":45},
{"d":"2024-01-26","k":82,"s":68},{"d":"2024-02-05","k":53,"s":68},{"d":"2024-02-13","k":20,"s":38},{"d":"2024-02-21","k":15,"s":20},{"d":"2024-02-27","k":44,"s":25}
],
"smk":[
{"d":"2023-09-25","v":1,"t":"up"},{"d":"2023-10-10","v":1,"t":"up"},{"d":"2023-11-03","v":1,"t":"up"},{"d":"2023-12-27","v":1,"t":"up"},{"d":"2024-01-18","v":1,"t":"up"},{"d":"2024-02-22","v":1,"t":"up"},
{"d":"2024-01-08","v":99,"t":"dn"},{"d":"2024-01-26","v":99,"t":"dn"}
],
"mf":[
{"d":"2023-03-21","g":0,"o":0,"n":-6,"r":5},{"d":"2023-03-27","g":4,"o":3,"n":-10,"r":5},{"d":"2023-04-01","g":8,"o":7,"n":-9,"r":6},{"d":"2023-04-19","g":8,"o":7,"n":-6,"r":7},
{"d":"2023-04-29","g":0,"o":0,"n":-3,"r":8},{"d":"2023-05-07","g":18,"o":16,"n":-1,"r":10},{"d":"2023-05-11","g":26,"o":22,"n":-1,"r":14},{"d":"2023-05-17","g":23,"o":20,"n":-1,"r":17},
{"d":"2023-05-23","g":18,"o":16,"n":-1,"r":18},{"d":"2023-06-08","g":20,"o":17,"n":-1,"r":20},{"d":"2023-06-18","g":23,"o":19,"n":-1,"r":20},{"d":"2023-06-27","g":16,"o":14,"n":-1,"r":18},
{"d":"2023-07-07","g":8,"o":7,"n":-1,"r":14},{"d":"2023-07-12","g":6,"o":5,"n":-1,"r":11},{"d":"2023-07-16","g":11,"o":10,"n":-1,"r":10},{"d":"2023-07-20","g":13,"o":12,"n":-1,"r":10},
{"d":"2023-07-28","g":5,"o":4,"n":-1,"r":9},{"d":"2023-08-05","g":3,"o":2,"n":-1,"r":8},{"d":"2023-08-13","g":18,"o":15,"n":-1,"r":10},{"d":"2023-08-17","g":20,"o":16,"n":-1,"r":13},
{"d":"2023-08-25","g":15,"o":14,"n":-1,"r":14},{"d":"2023-09-05","g":10,"o":9,"n":-1,"r":13},{"d":"2023-09-14","g":8,"o":7,"n":-1,"r":12},{"d":"2023-09-24","g":5,"o":4,"n":-1,"r":9},
{"d":"2023-10-01","g":6,"o":5,"n":-1,"r":7},{"d":"2023-10-07","g":0,"o":0,"n":-1,"r":5},{"d":"2023-10-17","g":3,"o":2,"n":-1,"r":4},{"d":"2023-10-23","g":-2,"o":0,"n":-1,"r":3},
{"d":"2023-10-31","g":-9,"o":0,"n":-1,"r":1},{"d":"2023-11-06","g":-4,"o":0,"n":0,"r":0},{"d":"2023-11-08","g":3,"o":2,"n":2,"r":1},{"d":"2023-11-16","g":5,"o":4,"n":8,"r":3},
{"d":"2023-11-23","g":20,"o":17,"n":10,"r":7},{"d":"2023-11-29","g":21,"o":18,"n":6,"r":10},{"d":"2023-12-03","g":18,"o":16,"n":0,"r":12},{"d":"2023-12-09","g":16,"o":15,"n":-1,"r":14},
{"d":"2023-12-15","g":18,"o":16,"n":-2,"r":15},{"d":"2023-12-24","g":13,"o":12,"n":-3,"r":15},{"d":"2024-01-02","g":11,"o":10,"n":-2,"r":14},{"d":"2024-01-08","g":16,"o":14,"n":-2,"r":14},
{"d":"2024-01-16","g":15,"o":13,"n":-4,"r":14},{"d":"2024-01-20","g":8,"o":7,"n":-5,"r":13},{"d":"2024-01-25","g":16,"o":13,"n":-5,"r":13},{"d":"2024-02-03","g":13,"o":12,"n":-6,"r":12},
{"d":"2024-02-14","g":8,"o":7,"n":-4,"r":9},{"d":"2024-02-21","g":5,"o":4,"n":-3,"r":7},{"d":"2024-02-27","g":8,"o":7,"n":-2,"r":6}
]
},
"vconcat":[
{"width":658,"height":219,
 "title":{"text":["AUDAX RENOV Diario 1,290 +0,16 % 27 feb 2024 17:35:41","\u25A0 Precio: O 1,283 H 1,289 L 1,282 C 1,290 (+0,16% +0,002)   \u25CF SMA (50): 1,2878   \u25A0 SMA (200): 1,2592"],"fontSize":5,"lineHeight":6.5,"offset":1},
 "layer":[
  {"data":{"name":"z"},"mark":{"type":"rect","strokeWidth":0.7,"clip":true},
   "encoding":{"x":{"field":"a","type":"temporal","scale":{"type":"utc","padding":0,"domain":[{"year":2023,"month":3,"date":21,"utc":true},{"year":2024,"month":4,"date":8,"utc":true}]},"axis":null},
    "x2":{"field":"b"},
    "y":{"field":"p1","type":"quantitative","scale":{"domain":[0.9773,1.4508],"nice":false,"zero":false},
      "axis":{"orient":"right","labelOverlap":false,"values":[1,1.04,1.08,1.12,1.16,1.2,1.24,1.271,1.29,1.305,1.32,1.36,1.4,1.44],
       "labelExpr":"datum.value==1.305?'1.2878':datum.value==1.271?'1.2592':datum.value==1.29?'1.290':format(datum.value,'.3~f')",
       "encode":{"labels":{"update":{
         "fill":{"signal":"datum.value==1.305?'#3b3bd0':datum.value==1.271?'#e03030':'#333'"},
         "fontWeight":{"signal":"datum.value==1.29?'bold':'normal'"}}}}}},
    "y2":{"field":"p2"},
    "fill":{"field":"k","type":"nominal","scale":{"domain":["res","pur","blu","gry","ora"],"range":["#fcdcdc","#e4c9f5","#e2e8fa","#e8e8e8","#fde8cc"]},"legend":null},
    "stroke":{"field":"k","type":"nominal","scale":{"domain":["res","pur","blu","gry","ora"],"range":["#f07070","#c090e8","#a8b8f0","#b0b0b0","#f8d8b0"]},"legend":null}}},
  {"data":{"values":[{}]},"mark":{"type":"text","fontSize":10,"color":"#f3c6c6","align":"right","baseline":"middle"},
   "encoding":{"x":{"datum":{"year":2024,"month":4,"date":4,"utc":true},"type":"temporal"},"y":{"datum":1.437,"type":"quantitative"},"text":{"value":"AUDAX RENOV"}}},
  {"data":{"name":"tl"},"mark":{"type":"line","color":"#555","strokeWidth":0.8,"clip":true},
   "encoding":{"x":{"field":"d","type":"temporal"},"y":{"field":"p","type":"quantitative"},"detail":{"field":"g"}}},
  {"data":{"name":"arc"},"mark":{"type":"line","color":"#b98ae8","strokeWidth":0.8,"interpolate":"monotone","clip":true},
   "encoding":{"x":{"field":"d","type":"temporal"},"y":{"field":"p","type":"quantitative"},"detail":{"field":"g"}}},
  {"data":{"name":"m200"},"mark":{"type":"line","color":"#f07878","strokeWidth":0.9,"interpolate":"monotone","clip":true},
   "encoding":{"x":{"field":"d","type":"temporal"},"y":{"field":"p","type":"quantitative"}}},
  {"data":{"name":"m50"},"mark":{"type":"line","color":"#5a5ad8","strokeWidth":0.9,"interpolate":"monotone","clip":true},
   "encoding":{"x":{"field":"d","type":"temporal"},"y":{"field":"p","type":"quantitative"}}},
  {"data":{"name":"c"},"mark":{"type":"rule","color":"#444","strokeWidth":0.6,"clip":true},
   "encoding":{"x":{"field":"d","type":"temporal"},"y":{"field":"l","type":"quantitative"},"y2":{"field":"h"}}},
  {"data":{"name":"c"},"mark":{"type":"bar","size":1.7,"stroke":"#333","strokeWidth":0.4,"clip":true},
   "encoding":{"x":{"field":"d","type":"temporal"},"y":{"field":"o","type":"quantitative"},"y2":{"field":"c"},
    "fill":{"condition":{"test":"datum.c>=datum.o","value":"#111"},"value":"#ffffff"}}},
  {"data":{"name":"mk"},"mark":{"type":"point","filled":true,"size":14,"strokeWidth":0},
   "encoding":{"x":{"field":"d","type":"temporal"},"y":{"field":"p","type":"quantitative"},
    "shape":{"field":"t","type":"nominal","scale":{"domain":["dn","up"],"range":["triangle-down","triangle-up"]},"legend":null},
    "color":{"field":"t","type":"nominal","scale":{"domain":["dn","up"],"range":["#e8322a","#2aa84a"]},"legend":null}}},
  {"data":{"name":"dv"},"mark":{"type":"point","shape":"square","filled":true,"size":8},
   "encoding":{"x":{"field":"d","type":"temporal"},"y":{"field":"p","type":"quantitative"},
    "color":{"field":"k","type":"nominal","scale":{"domain":["b","g"],"range":["#7b9be8","#cccccc"]},"legend":null}}},
  {"data":{"values":[{}]},"mark":{"type":"text","fontSize":4.8,"color":"#333","align":"left","baseline":"middle","dx":1},
   "encoding":{"x":{"datum":{"year":2023,"month":3,"date":21,"utc":true},"type":"temporal"},"y":{"datum":0.985,"type":"quantitative"},"text":{"value":"ProRealTime.com: Datos hist\u00f3ricos ajustados a los dividendos"}}}
 ]},
{"width":658,"height":20,
 "layer":[
  {"data":{"name":"c"},"mark":{"type":"bar","size":1.4,"color":"#111","clip":true},
   "encoding":{"x":{"field":"d","type":"temporal","scale":{"type":"utc","padding":0,"domain":[{"year":2023,"month":3,"date":21,"utc":true},{"year":2024,"month":4,"date":8,"utc":true}]},"axis":null},
    "y":{"field":"v","type":"quantitative","scale":{"domain":[0,420000],"nice":false},"axis":{"orient":"right","labelOverlap":false,"values":[66602,235000,365000],"labelExpr":"datum.value==66602?'66.602':datum.value==235000?'1.3394':'2.3394'"}}}},
  {"data":{"values":[{}]},"mark":{"type":"text","dx":1,"dy":1},
   "encoding":{"x":{"datum":{"year":2023,"month":3,"date":21,"utc":true},"type":"temporal"},"y":{"datum":420000,"type":"quantitative"},"text":{"value":"\u25A0 Volumen 66.602"}}}
 ]},
{"width":658,"height":46,
 "layer":[
  {"data":{"values":[{"y":70},{"y":30}]},"mark":{"type":"rule","color":"#9a9af0","strokeWidth":0.9},
   "encoding":{"y":{"field":"y","type":"quantitative","scale":{"domain":[0,107.8],"nice":false},
     "axis":{"orient":"right","labelOverlap":false,"values":[0,20,51.5,80,100],"labelExpr":"datum.value==51.5?'51.519':datum.value",
      "encode":{"labels":{"update":{"fill":{"signal":"datum.value==51.5?'#a050e0':'#333'"}}}}}}}},
  {"data":{"name":"rsi"},"mark":{"type":"line","color":"#b070e0","strokeWidth":0.8},
   "encoding":{"x":{"field":"d","type":"temporal","scale":{"type":"utc","padding":0,"domain":[{"year":2023,"month":3,"date":21,"utc":true},{"year":2024,"month":4,"date":8,"utc":true}]},"axis":null},"y":{"field":"r","type":"quantitative"}}},
  {"data":{"name":"rmk"},"mark":{"type":"point","shape":"triangle-down","filled":true,"size":14,"color":"#e8322a","strokeWidth":0},
   "encoding":{"x":{"field":"d","type":"temporal"},"y":{"field":"r","type":"quantitative"}}},
  {"data":{"values":[{}]},"mark":{"type":"text","dx":1,"dy":1},
   "encoding":{"x":{"datum":{"year":2023,"month":3,"date":21,"utc":true},"type":"temporal"},"y":{"datum":107.8,"type":"quantitative"},"text":{"value":"\u25A0 RSI (14) 51.519"}}}
 ]},
{"width":658,"height":41,
 "layer":[
  {"data":{"values":[{"y":0}]},"mark":{"type":"rule","color":"#9a9af0","strokeWidth":0.9},
   "encoding":{"y":{"field":"y","type":"quantitative","scale":{"domain":[-0.0587,0.0507],"nice":false},
     "axis":{"orient":"right","labelOverlap":false,"values":[-0.04,-0.02,0.0095,0.04],"labelExpr":"datum.value==0.0095?'0.0095':format(datum.value,'.2f')",
      "encode":{"labels":{"update":{"fill":{"signal":"datum.value==0.0095?'#3b3bd0':'#333'"}}}}}}}},
  {"data":{"name":"mh"},"mark":{"type":"bar","size":1.4,"clip":true},
   "encoding":{"x":{"field":"d","type":"temporal","scale":{"type":"utc","padding":0,"domain":[{"year":2023,"month":3,"date":21,"utc":true},{"year":2024,"month":4,"date":8,"utc":true}]},"axis":null},"y":{"field":"h","type":"quantitative"},
    "color":{"condition":{"test":"datum.h>=0","value":"#111"},"value":"#aaaaaa"}}},
  {"data":{"name":"sig"},"mark":{"type":"line","color":"#f3a865","strokeWidth":0.8,"interpolate":"monotone"},
   "encoding":{"x":{"field":"d","type":"temporal"},"y":{"field":"s","type":"quantitative"}}},
  {"data":{"name":"macd"},"mark":{"type":"line","color":"#5068e0","strokeWidth":0.8,"interpolate":"monotone"},
   "encoding":{"x":{"field":"d","type":"temporal"},"y":{"field":"m","type":"quantitative"}}},
  {"data":{"values":[{}]},"mark":{"type":"text","dx":1,"dy":1},
   "encoding":{"x":{"datum":{"year":2023,"month":3,"date":21,"utc":true},"type":"temporal"},"y":{"datum":0.0507,"type":"quantitative"},"text":{"value":"\u25A0 MACD (12,26,9) 0.0095 -0.0050 -0.0085"}}}
 ]},
{"width":658,"height":38,
 "layer":[
  {"data":{"values":[{"a":"2023-09-18","b":"2024-03-28","y1":8,"y2":19}]},"mark":{"type":"rect","color":"#dfe9fb"},
   "encoding":{"x":{"field":"a","type":"temporal","scale":{"type":"utc","padding":0,"domain":[{"year":2023,"month":3,"date":21,"utc":true},{"year":2024,"month":4,"date":8,"utc":true}]},"axis":null},"x2":{"field":"b"},
    "y":{"field":"y1","type":"quantitative","scale":{"domain":[-8.1,102.3],"nice":false},
     "axis":{"orient":"right","labelOverlap":false,"values":[0,25.6,45.9,80],"labelExpr":"datum.value==25.6?'25.606':datum.value==45.9?'45.930':datum.value",
      "encode":{"labels":{"update":{"fill":{"signal":"datum.value==25.6?'#e03030':datum.value==45.9?'#3b3bd0':'#333'"}}}}}},
    "y2":{"field":"y2"}}},
  {"data":{"values":[{"y":80},{"y":20}]},"mark":{"type":"rule","color":"#9a9af0","strokeWidth":0.9},
   "encoding":{"y":{"field":"y","type":"quantitative"}}},
  {"data":{"name":"st"},"mark":{"type":"area","color":"#d8b0f5","opacity":0.55,"interpolate":"monotone"},
   "encoding":{"x":{"field":"d","type":"temporal"},"y":{"field":"k","type":"quantitative"},"y2":{"field":"s"}}},
  {"data":{"name":"st"},"mark":{"type":"line","color":"#f07070","strokeWidth":0.8,"interpolate":"monotone"},
   "encoding":{"x":{"field":"d","type":"temporal"},"y":{"field":"s","type":"quantitative"}}},
  {"data":{"name":"st"},"mark":{"type":"line","color":"#6a5ad8","strokeWidth":0.8,"interpolate":"monotone"},
   "encoding":{"x":{"field":"d","type":"temporal"},"y":{"field":"k","type":"quantitative"}}},
  {"data":{"name":"smk"},"mark":{"type":"point","filled":true,"size":14,"strokeWidth":0},
   "encoding":{"x":{"field":"d","type":"temporal"},"y":{"field":"v","type":"quantitative"},
    "shape":{"field":"t","type":"nominal","scale":{"domain":["dn","up"],"range":["triangle-down","triangle-up"]},"legend":null},
    "color":{"field":"t","type":"nominal","scale":{"domain":["dn","up"],"range":["#e8322a","#2aa84a"]},"legend":null}}},
  {"data":{"values":[{}]},"mark":{"type":"text","dx":1,"dy":1},
   "encoding":{"x":{"datum":{"year":2023,"month":3,"date":21,"utc":true},"type":"temporal"},"y":{"datum":102.3,"type":"quantitative"},"text":{"value":"\u25A0 Estoc\u00e1stico (14,3,5) 45.930 25.606"}}}
 ]},
{"width":658,"height":38,
 "layer":[
  {"data":{"name":"mf"},"mark":{"type":"area","color":"#86e07a","interpolate":"monotone","clip":true},
   "encoding":{"x":{"field":"d","type":"temporal","scale":{"type":"utc","padding":0,"domain":[{"year":2023,"month":3,"date":21,"utc":true},{"year":2024,"month":4,"date":8,"utc":true}]},
     "axis":{"orient":"bottom","tickCount":{"interval":"week","step":1},"labelFontSize":5,"tickSize":2,"labelPadding":1,"labelFlush":true,
      "labelExpr":"utcdate(datum.value)<=7 ? (utcmonth(datum.value)==0 ? ''+utcyear(datum.value) : ['ene','feb','mar','abr','may','jun','jul','ago','sept','oct','nov','dic'][utcmonth(datum.value)]) : utcFormat(datum.value,'%d')",
      "encode":{"labels":{"update":{"fontWeight":{"signal":"utcdate(datum.value)<=7?'bold':'normal'"}}}}}},
    "y":{"field":"g","type":"quantitative","scale":{"domain":[-8,30],"nice":false},"axis":{"orient":"right","labelOverlap":false,"values":[-5,5,12,19,26],"labelExpr":"datum.value==-5?'-0.5':datum.value==5?'0.5':datum.value==12?'1.0':datum.value==19?'1.5':'2.0'"}}}},
  {"data":{"name":"mf"},"mark":{"type":"area","color":"#f5b55c","interpolate":"monotone","clip":true},
   "encoding":{"x":{"field":"d","type":"temporal"},"y":{"field":"o","type":"quantitative"}}},
  {"data":{"name":"mf"},"mark":{"type":"area","color":"#24306e","interpolate":"monotone","clip":true},
   "encoding":{"x":{"field":"d","type":"temporal"},"y":{"field":"n","type":"quantitative"}}},
  {"data":{"name":"mf"},"mark":{"type":"line","color":"#f07070","strokeWidth":0.8,"interpolate":"monotone","clip":true},
   "encoding":{"x":{"field":"d","type":"temporal"},"y":{"field":"r","type":"quantitative"}}},
  {"data":{"values":[{}]},"mark":{"type":"text","dx":1,"dy":1},
   "encoding":{"x":{"datum":{"year":2023,"month":3,"date":21,"utc":true},"type":"temporal"},"y":{"datum":30,"type":"quantitative"},"text":{"value":"\u25A0 Flujo Monetario (20) 15.000  12.000  13.000  -3.000  6.000"}}}
 ]}
]
}
